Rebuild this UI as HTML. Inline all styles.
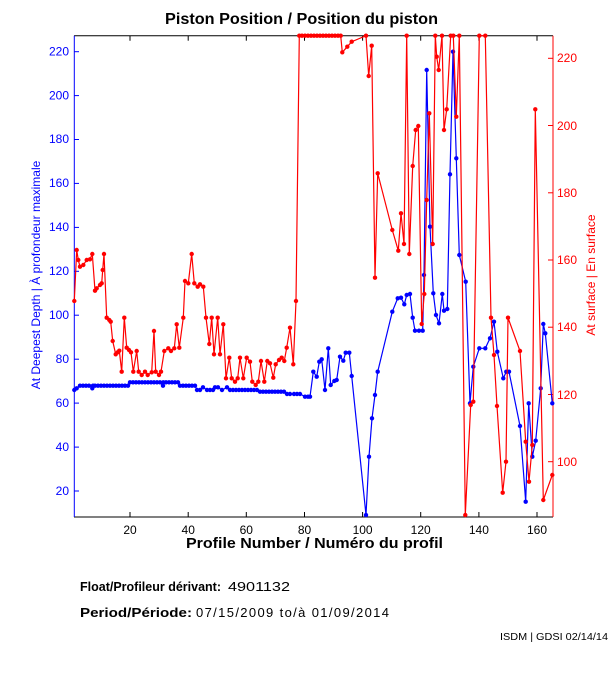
<!DOCTYPE html>
<html><head><meta charset="utf-8"><style>
body{margin:0;background:#fff;width:611px;height:675px;overflow:hidden}
text{font-family:"Liberation Sans",sans-serif}
</style></head><body>
<svg width="611" height="675" viewBox="0 0 611 675" xmlns="http://www.w3.org/2000/svg">
<defs>
<marker id="mb" markerWidth="6" markerHeight="6" refX="3" refY="3" markerUnits="userSpaceOnUse"><circle cx="3" cy="3" r="2.2" fill="#0000ff"/></marker>
<marker id="mr" markerWidth="6" markerHeight="6" refX="3" refY="3" markerUnits="userSpaceOnUse"><circle cx="3" cy="3" r="2.2" fill="#ff0000"/></marker>
</defs>
<text x="165" y="24" font-size="16" font-weight="bold" textLength="273" lengthAdjust="spacingAndGlyphs">Piston Position / Position du piston</text>
<line x1="74" y1="35.7" x2="553" y2="35.7" stroke="#000"/>
<line x1="74" y1="517" x2="553" y2="517" stroke="#000"/>
<line x1="74.3" y1="35.7" x2="74.3" y2="517" stroke="#0000ff"/>
<line x1="553" y1="35.7" x2="553" y2="517" stroke="#ff0000"/>
<g stroke="#000">
<line x1="130" y1="517" x2="130" y2="512"/><line x1="188.2" y1="517" x2="188.2" y2="512"/><line x1="246.3" y1="517" x2="246.3" y2="512"/><line x1="304.5" y1="517" x2="304.5" y2="512"/><line x1="362.6" y1="517" x2="362.6" y2="512"/><line x1="420.7" y1="517" x2="420.7" y2="512"/><line x1="478.9" y1="517" x2="478.9" y2="512"/><line x1="537" y1="517" x2="537" y2="512"/>
<line x1="130" y1="35.7" x2="130" y2="40.7"/><line x1="188.2" y1="35.7" x2="188.2" y2="40.7"/><line x1="246.3" y1="35.7" x2="246.3" y2="40.7"/><line x1="304.5" y1="35.7" x2="304.5" y2="40.7"/><line x1="362.6" y1="35.7" x2="362.6" y2="40.7"/><line x1="420.7" y1="35.7" x2="420.7" y2="40.7"/><line x1="478.9" y1="35.7" x2="478.9" y2="40.7"/><line x1="537" y1="35.7" x2="537" y2="40.7"/>
</g>
<g font-size="12" text-anchor="middle">
<text x="130" y="534">20</text><text x="188.2" y="534">40</text><text x="246.3" y="534">60</text><text x="304.5" y="534">80</text><text x="362.6" y="534">100</text><text x="420.7" y="534">120</text><text x="478.9" y="534">140</text><text x="537" y="534">160</text>
</g>
<g stroke="#0000ff">
<line x1="74.3" x2="79" y1="491" y2="491"/><line x1="74.3" x2="79" y1="447.1" y2="447.1"/><line x1="74.3" x2="79" y1="403.1" y2="403.1"/><line x1="74.3" x2="79" y1="359.2" y2="359.2"/><line x1="74.3" x2="79" y1="315.2" y2="315.2"/><line x1="74.3" x2="79" y1="271.3" y2="271.3"/><line x1="74.3" x2="79" y1="227.4" y2="227.4"/><line x1="74.3" x2="79" y1="183.4" y2="183.4"/><line x1="74.3" x2="79" y1="139.5" y2="139.5"/><line x1="74.3" x2="79" y1="95.6" y2="95.6"/><line x1="74.3" x2="79" y1="51.7" y2="51.7"/>
</g>
<g font-size="12" fill="#0000ff" text-anchor="end">
<text x="69" y="495">20</text><text x="69" y="451">40</text><text x="69" y="407">60</text><text x="69" y="363">80</text><text x="69" y="319">100</text><text x="69" y="275">120</text><text x="69" y="231">140</text><text x="69" y="187">160</text><text x="69" y="143">180</text><text x="69" y="99.6">200</text><text x="69" y="55.7">220</text>
</g>
<g stroke="#ff0000">
<line x1="548" x2="553" y1="461.7" y2="461.7"/><line x1="548" x2="553" y1="394.5" y2="394.5"/><line x1="548" x2="553" y1="327.2" y2="327.2"/><line x1="548" x2="553" y1="260" y2="260"/><line x1="548" x2="553" y1="192.8" y2="192.8"/><line x1="548" x2="553" y1="125.5" y2="125.5"/><line x1="548" x2="553" y1="58.3" y2="58.3"/>
</g>
<g font-size="12" fill="#ff0000">
<text x="557" y="466">100</text><text x="557" y="399">120</text><text x="557" y="331">140</text><text x="557" y="264">160</text><text x="557" y="197">180</text><text x="557" y="130">200</text><text x="557" y="62">220</text>
</g>
<text x="186" y="548" font-size="15" font-weight="bold" textLength="257" lengthAdjust="spacingAndGlyphs">Profile Number / Numéro du profil</text>
<text transform="translate(40,275) rotate(-90)" font-size="12" fill="#0000ff" text-anchor="middle">At Deepest Depth | À profondeur maximale</text>
<text transform="translate(595,275) rotate(-90)" font-size="12" fill="#ff0000" text-anchor="middle">At surface | En surface</text>
<polyline fill="none" stroke="#0000ff" stroke-width="1.2" marker-start="url(#mb)" marker-mid="url(#mb)" marker-end="url(#mb)" points="74.3,390 76.7,388.3 80,385.7 83,385.7 86,385.7 89,385.7 93,385.7 92.3,388.3 95,385.7 98,385.7 101,385.7 104,385.7 107,385.7 110,385.7 113,385.7 116,385.7 119,385.7 122,385.7 125,385.7 128,385.7 130,382.3 133,382.3 136,382.3 139,382.3 142,382.3 145,382.3 148,382.3 151,382.3 154,382.3 157,382.3 160,382.3 163,385.7 163.3,382.3 166,382.3 169,382.3 172,382.3 175,382.3 178,382.3 180,385.7 183,385.7 186,385.7 189,385.7 192,385.7 195,385.7 197,390 200,390 203,387.3 207,390 210,390 213,390 215,387.3 218,387.3 222,390 227,387.3 230,390 233,390 236,390 239,390 242,390 245,390 248,390 251,390 254,390 257,390 260,391.7 263,391.7 266,391.7 269,391.7 272,391.7 275,391.7 278,391.7 281,391.7 284,391.7 287,394 290,394 294,394 297,394 300,394 305,396.7 308,396.7 310,396.7 313.3,371.7 316.7,376.7 319.3,361.7 321.7,359.3 325,390 328.3,348.3 330.7,385 334.3,381 336.7,380 340,356.7 343.3,360.7 345.7,352.7 349.3,352.7 351.7,376 366,515 369,456.7 372,418.3 375,395 377.7,371.7 392.3,311.7 397.7,298.3 401,297.7 404.3,304.3 406.7,295 410,294 412.7,317.7 415,330.7 419,330.7 422.7,330.7 424,275 426.7,70 430,226.7 433.3,293.3 436,315 439,323.3 442.3,294 444,310.7 447.3,309 450,174.3 453,51.7 456.3,158.3 459.3,255 465.7,281.7 470,403.3 473.3,366.7 479.3,348.3 485.3,348.3 490,338.3 494,321.7 497.3,351.7 503.3,378.3 506.3,371.7 509,371.7 520,426 525.7,501.7 528.7,403.3 532.3,456.7 535.7,440.7 540.7,388.3 543.3,324 545.3,333.3 552.3,403.3"/>
<polyline fill="none" stroke="#ff0000" stroke-width="1.2" marker-start="url(#mr)" marker-mid="url(#mr)" marker-end="url(#mr)" points="74.3,301 76.7,250 78.3,260 80,266.7 83.3,265 86.7,260 90,259.3 92.3,254 95,290.7 96.7,288.3 100,285 101.7,283.3 102.7,270 104,254 106.7,317.7 109.3,320 110.7,321.7 112.7,341 115.7,354.3 117.7,352.3 119.3,350.7 121.7,371.7 124.3,317.7 126.7,347.7 129,350 131,352.3 133.3,371.7 136.7,351 138.7,371.7 141.7,375 145,371.7 147.7,375 151.7,372.3 154,331 155.7,371.7 159,375 161,371.7 164.3,351 168.3,348.3 171,351 174.3,348.3 176.7,324.3 179.3,347.7 183.3,317.7 185,281 188.3,283.3 191.7,254 194.3,283.3 197.7,286.7 200,284.3 203.3,286.7 206,317.7 209.3,344 211.7,317.7 214,354.3 217.7,317.7 220,354.3 223.3,324.3 226,378.3 229.3,357.7 231.7,378.3 235,381.7 237.7,378.3 240,357.7 243.3,378.3 246.7,357.7 250,361.7 252.3,381.7 255.7,385 258.3,381.7 261,361 264.3,381.7 267.3,361 270,363.3 273.3,377.7 275.7,364.3 279,360 281.7,357.7 284.3,361 286.7,347.7 290,327.7 293.3,364.3 296,301 299.3,35.7 302,35.7 305,35.7 308,35.7 311,35.7 314,35.7 317,35.7 320,35.7 323,35.7 326,35.7 329,35.7 332,35.7 335,35.7 338,35.7 340.7,35.7 342.3,52.3 347.3,46.7 351.7,41.7 366,35.7 368.7,76 371.7,45.7 375,277.7 377.7,173.3 392.3,230 398.3,250.7 401,213.3 404,244 406.7,35.7 409.3,254 412.7,166 415.7,130 418.3,126 421.7,324 424.3,294 426.7,200 429.3,113.3 432.7,244 435.3,35.7 436.7,56.7 438.7,70 442,35.7 444,130 446.7,109.3 450.7,35.7 453.3,35.7 456.3,116.7 459.3,35.7 465.3,515 470.7,405 473.3,401.7 479.3,35.7 485.3,35.7 491,317.7 494,355 497,406 502.7,492.7 506,461.7 508,317.7 520,351 525.7,441.7 529,481.7 532.3,445 535.3,109.3 543.3,500 552.3,475"/>
<text x="80" y="591" font-size="13" font-weight="bold" textLength="141" lengthAdjust="spacingAndGlyphs">Float/Profileur dérivant:</text>
<text x="228" y="591" font-size="13" textLength="62" lengthAdjust="spacingAndGlyphs">4901132</text>
<text x="80" y="617" font-size="13" font-weight="bold" textLength="112" lengthAdjust="spacingAndGlyphs">Period/Période:</text>
<text x="196" y="617" font-size="13" textLength="193" lengthAdjust="spacing">07/15/2009  to/à  01/09/2014</text>
<text x="500" y="640" font-size="10" textLength="108" lengthAdjust="spacingAndGlyphs">ISDM | GDSI 02/14/14</text>
</svg>
</body></html>
